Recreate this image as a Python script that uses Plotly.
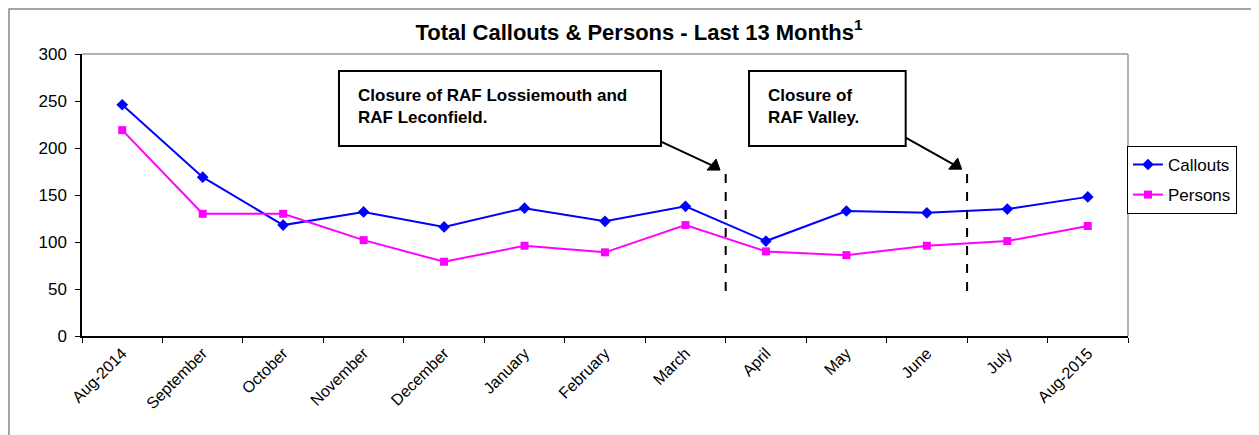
import plotly.graph_objects as go

months = ["Aug-2014", "September", "October", "November", "December", "January",
          "February", "March", "April", "May", "June", "July", "Aug-2015"]
callouts = [246, 169, 118, 132, 116, 136, 122, 138, 101, 133, 131, 135, 148]
persons = [219, 130, 130, 102, 79, 96, 89, 118, 90, 86, 96, 101, 117]

FONT = "Arial, Liberation Sans, sans-serif"

fig = go.Figure()
fig.add_trace(go.Scatter(x=months, y=callouts, name="Callouts", mode="lines+markers",
                         line=dict(color="#0000FF", width=2),
                         marker=dict(symbol="diamond", size=9, color="#0000FF"),
                         legendgroup="a"))
fig.add_trace(go.Scatter(x=months, y=persons, name="Persons", mode="lines+markers",
                         line=dict(color="#FF00FF", width=2),
                         marker=dict(symbol="square", size=8, color="#FF00FF"),
                         legendgroup="b"))

shapes = []
# outer chart border (at the figure's left/top edge)
shapes.append(dict(type="rect", xref="paper", yref="paper",
                   x0=-73 / 1046, x1=1.3, y0=-0.6, y1=1 + 45 / 282,
                   line=dict(color="#888888", width=1.5), layer="below"))
# plot area top/right borders
shapes.append(dict(type="line", xref="paper", yref="paper", x0=0, x1=1, y0=1, y1=1,
                   line=dict(color="#999999", width=1.5)))
shapes.append(dict(type="line", xref="paper", yref="paper", x0=1, x1=1, y0=0, y1=1,
                   line=dict(color="#999999", width=1.5)))
# dashed closure lines
for xv in (7.5, 10.5):
    shapes.append(dict(type="line", xref="x", yref="y", x0=xv, x1=xv, y0=48, y1=173,
                       line=dict(color="black", width=2, dash="dash")))
# annotation boxes
shapes.append(dict(type="rect", xref="x", yref="y", x0=2.694, x1=6.696, y0=202, y1=282,
                   line=dict(color="black", width=2), fillcolor="white"))
shapes.append(dict(type="rect", xref="x", yref="y", x0=7.79, x1=9.737, y0=202, y1=282,
                   line=dict(color="black", width=2), fillcolor="white"))
# arrow shafts
shapes.append(dict(type="line", xref="x", yref="y", x0=6.696, y0=206.8, x1=7.33, y1=181.5,
                   line=dict(color="black", width=2)))
shapes.append(dict(type="line", xref="x", yref="y", x0=9.737, y0=211, x1=10.33, y1=182.5,
                   line=dict(color="black", width=2)))
# arrow heads (pixel-sized triangles anchored at the tips)
for tx, ty in ((7.43, 176.5), (10.433, 177.5)):
    shapes.append(dict(type="path", xref="x", yref="y", xsizemode="pixel", ysizemode="pixel",
                       xanchor=tx, yanchor=ty, path="M 0 0 L -13 0 L -4 11 Z",
                       fillcolor="black", line=dict(color="black", width=1)))

tf = dict(family=FONT, size=17, color="black")
annotations = [
    dict(x=2.905, y=255.5, xref="x", yref="y", xanchor="left", yanchor="middle",
         text="<b>Closure of RAF Lossiemouth and</b>", showarrow=False, font=tf),
    dict(x=2.905, y=232.5, xref="x", yref="y", xanchor="left", yanchor="middle",
         text="<b>RAF Leconfield.</b>", showarrow=False, font=tf),
    dict(x=8.0, y=255.5, xref="x", yref="y", xanchor="left", yanchor="middle",
         text="<b>Closure of</b>", showarrow=False, font=tf),
    dict(x=8.0, y=232.5, xref="x", yref="y", xanchor="left", yanchor="middle",
         text="<b>RAF Valley.</b>", showarrow=False, font=tf),
]

# page body has an 8px margin; compensate so the plot area sits where the reference has it
fig.update_layout(
    width=1251, height=427,
    margin=dict(l=74, r=131, t=46, b=99, autoexpand=False),
    paper_bgcolor="white", plot_bgcolor="white",
    font=dict(family=FONT, size=15, color="black"),
    title=dict(text="<b>Total Callouts & Persons - Last 13 Months<sup>1</sup></b>",
               x=(639 - 8) / 1251, xanchor="center", xref="container",
               y=1 - (32 - 8) / 427, yanchor="middle", yref="container",
               font=dict(family=FONT, size=22, color="black")),
    showlegend=True,
    legend=dict(x=0.999, y=0.674, xanchor="left", yanchor="top",
                bordercolor="black", borderwidth=1, bgcolor="white",
                font=dict(family=FONT, size=17, color="black"),
                tracegroupgap=5, itemwidth=30),
    shapes=shapes,
    annotations=annotations,
)
fig.update_xaxes(type="category", range=[-0.5, 12.5], tickangle=-45, automargin=False,
                 showline=True, linecolor="black", linewidth=1.5,
                 ticks="outside", tickson="boundaries", ticklen=5, tickcolor="black",
                 showgrid=False, zeroline=False, tickfont=dict(size=16))
fig.update_yaxes(range=[0, 300], dtick=50, showline=True, linecolor="black", linewidth=1.5,
                 automargin=False, ticklabelstandoff=5,
                 ticks="outside", ticklen=5, tickcolor="black",
                 showgrid=False, zeroline=False, tickfont=dict(size=17))

fig.write_html("out.html")
